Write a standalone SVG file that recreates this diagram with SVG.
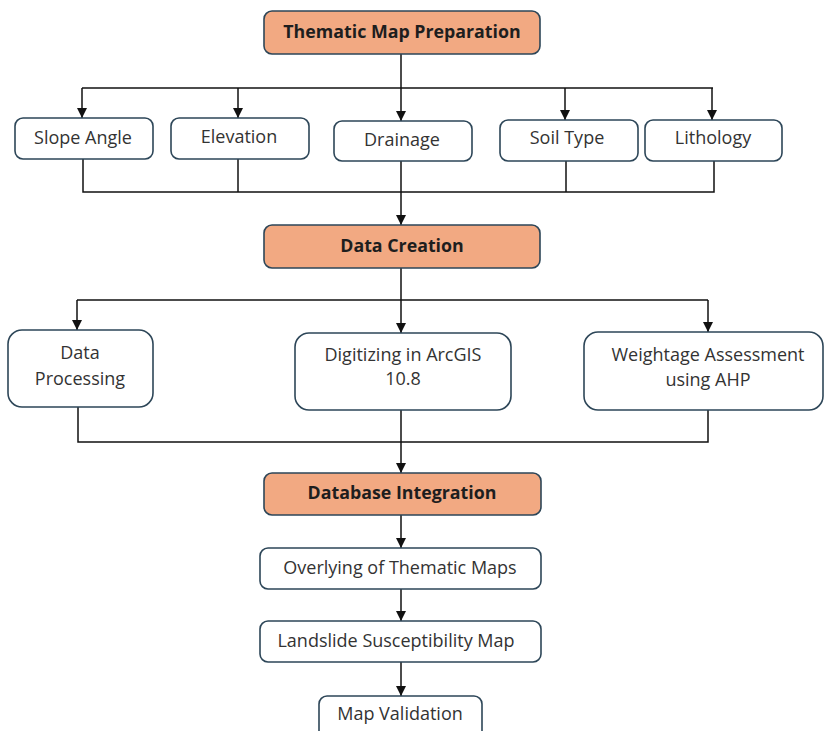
<svg xmlns="http://www.w3.org/2000/svg" width="824" height="731" viewBox="0 0 824 731">
<defs>
<marker id="arr" viewBox="0 0 10 10" refX="10" refY="5" markerWidth="10" markerHeight="10" markerUnits="userSpaceOnUse" orient="auto">
<path d="M0,0 L10,5 L0,10 Z" fill="#111"/>
</marker>
<style>
.box{fill:#fff;stroke:#2d4658;stroke-width:1.6}
.hd{fill:#f2a982;stroke:#2d4658;stroke-width:1.6}
.t{font-family:"Open Sans","Noto Sans",sans-serif;font-size:18px;fill:#333;text-anchor:middle}
.b{font-family:"Open Sans","Noto Sans",sans-serif;font-size:17.8px;font-weight:bold;fill:#1e1e1e;text-anchor:middle}
.c{fill:none;stroke:#111;stroke-width:1.5}
</style>
</defs>
<rect width="824" height="731" fill="#fff"/>
<g id="connectors">
<path class="c" d="M401,54 V88"/>
<path class="c" d="M82,88 H713"/>
<path class="c" d="M82,88 V118" marker-end="url(#arr)"/>
<path class="c" d="M238,88 V118" marker-end="url(#arr)"/>
<path class="c" d="M401,88 V121" marker-end="url(#arr)"/>
<path class="c" d="M565,88 V120" marker-end="url(#arr)"/>
<path class="c" d="M712,88 V120" marker-end="url(#arr)"/>
<path class="c" d="M83,159 V192 H714 V161"/>
<path class="c" d="M238,159 V192"/>
<path class="c" d="M566,161 V192"/>
<path class="c" d="M401,161 V225" marker-end="url(#arr)"/>
<path class="c" d="M401,268 V300"/>
<path class="c" d="M77,300 H708"/>
<path class="c" d="M77,300 V330" marker-end="url(#arr)"/>
<path class="c" d="M401,300 V333" marker-end="url(#arr)"/>
<path class="c" d="M708,300 V332" marker-end="url(#arr)"/>
<path class="c" d="M78,407 V442 H708 V410"/>
<path class="c" d="M401,410 V473" marker-end="url(#arr)"/>
<path class="c" d="M401,515 V548" marker-end="url(#arr)"/>
<path class="c" d="M401,589 V621" marker-end="url(#arr)"/>
<path class="c" d="M401,662 V696" marker-end="url(#arr)"/>
</g>
<g id="thematic">
<rect class="hd" x="264" y="11" width="276" height="43" rx="8"/>
<text class="b" x="402" y="38">Thematic Map Preparation</text>
</g>
<g id="slope">
<rect class="box" x="15" y="118" width="138" height="41" rx="8"/>
<text class="t" x="83" y="144">Slope Angle</text>
</g>
<g id="elevation">
<rect class="box" x="171" y="118" width="138" height="41" rx="8"/>
<text class="t" x="239" y="143">Elevation</text>
</g>
<g id="drainage">
<rect class="box" x="334" y="121" width="138" height="40" rx="8"/>
<text class="t" x="402" y="146">Drainage</text>
</g>
<g id="soil">
<rect class="box" x="500" y="120" width="138" height="41" rx="8"/>
<text class="t" x="567" y="144">Soil Type</text>
</g>
<g id="lithology">
<rect class="box" x="645" y="120" width="137" height="41" rx="8"/>
<text class="t" x="713" y="144">Lithology</text>
</g>
<g id="datacreation">
<rect class="hd" x="264" y="225" width="276" height="43" rx="8"/>
<text class="b" x="402" y="252">Data Creation</text>
</g>
<g id="dataprocessing">
<rect class="box" x="8" y="330" width="145" height="77" rx="14"/>
<text class="t" x="80" y="359">Data</text>
<text class="t" x="80" y="385">Processing</text>
</g>
<g id="digitizing">
<rect class="box" x="295" y="333" width="216" height="77" rx="14"/>
<text class="t" x="403" y="361">Digitizing in ArcGIS</text>
<text class="t" x="403" y="385">10.8</text>
</g>
<g id="weightage">
<rect class="box" x="584" y="332" width="239" height="78" rx="14"/>
<text class="t" x="708" y="361">Weightage Assessment</text>
<text class="t" x="708" y="386">using AHP</text>
</g>
<g id="database">
<rect class="hd" x="264" y="473" width="277" height="42" rx="8"/>
<text class="b" x="402" y="499">Database Integration</text>
</g>
<g id="overlying">
<rect class="box" x="260" y="548" width="281" height="41" rx="8"/>
<text class="t" x="400" y="574">Overlying of Thematic Maps</text>
</g>
<g id="landslide">
<rect class="box" x="260" y="621" width="281" height="41" rx="8"/>
<text class="t" x="396" y="647">Landslide Susceptibility Map</text>
</g>
<g id="validation">
<rect class="box" x="319" y="696" width="163" height="50" rx="8"/>
<text class="t" x="400" y="720">Map Validation</text>
</g>
</svg>
